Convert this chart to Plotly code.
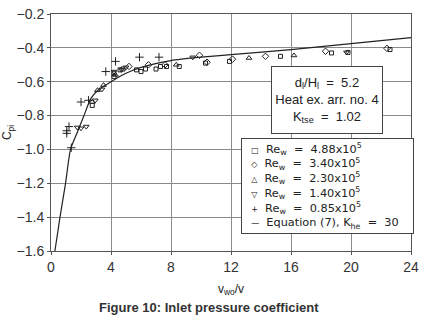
import plotly.graph_objects as go

# Re_w = 4.88x10^5 (squares)
x_488 = [2.75, 4.2, 4.2, 4.6, 4.8, 5.7, 6.0, 6.3, 7.0, 7.3, 7.7, 8.55, 10.3, 11.9, 15.3, 18.7, 19.8, 22.6]
y_488 = [-0.74, -0.57, -0.55, -0.53, -0.525, -0.53, -0.54, -0.525, -0.525, -0.51, -0.51, -0.51, -0.49, -0.48, -0.45, -0.43, -0.427, -0.41]
# Re_w = 3.40x10^5 (diamonds)
x_340 = [5.2, 6.5, 7.6, 9.9, 10.4, 12.1, 14.3, 18.3, 22.4]
y_340 = [-0.51, -0.50, -0.50, -0.444, -0.485, -0.467, -0.45, -0.42, -0.403]
# Re_w = 2.30x10^5 (triangles up)
x_230 = [2.75, 3.1, 3.5, 4.3, 8.35, 13.2, 16.2]
y_230 = [-0.72, -0.65, -0.62, -0.56, -0.50, -0.46, -0.445]
# Re_w = 1.40x10^5 (triangles down)
x_140 = [1.75, 2.0, 2.35, 2.95, 3.4, 4.2, 4.7, 5.0, 9.45, 19.7]
y_140 = [-0.87, -0.875, -0.865, -0.71, -0.645, -0.54, -0.53, -0.515, -0.456, -0.427]
# Re_w = 0.85x10^5 (crosses)
x_085 = [1.05, 1.05, 1.2, 1.35, 2.0, 2.5, 3.65, 4.3, 5.9, 7.2]
y_085 = [-0.89, -0.905, -0.865, -0.99, -0.72, -0.71, -0.54, -0.48, -0.455, -0.455]
# Equation (7), K_he = 30
x_eq = [0.26, 0.6, 0.97, 1.3, 1.75, 2.2, 2.65, 3.2, 4.0, 5.0, 6.0, 8.0, 10.0, 12.0, 16.0, 20.0, 24.0]
y_eq = [-1.6, -1.4, -1.2, -1.0, -0.9, -0.8, -0.70, -0.645, -0.6, -0.55, -0.515, -0.475, -0.455, -0.44, -0.41, -0.375, -0.34]

x_ticks = [0, 4, 8, 12, 16, 20, 24]
y_ticks = [-0.2, -0.4, -0.6, -0.8, -1.0, -1.2, -1.4, -1.6]

legend_symbols = ["\u25A1", "\u25C7", "\u25B3", "\u25BD", "+", "\u2014"]
legend_labels = [
    "Re<sub>w</sub>  =  4.88x10<sup>5</sup>",
    "Re<sub>w</sub>  =  3.40x10<sup>5</sup>",
    "Re<sub>w</sub>  =  2.30x10<sup>5</sup>",
    "Re<sub>w</sub>  =  1.40x10<sup>5</sup>",
    "Re<sub>w</sub>  =  0.85x10<sup>5</sup>",
    "Equation (7), K<sub>he</sub>  =  30",
]

FONT = "Liberation Sans"
INK = "#222222"

fig = go.Figure()
series = [
    (x_488, y_488, "square-open", legend_labels[0], 4),
    (x_340, y_340, "diamond-open", legend_labels[1], 5),
    (x_230, y_230, "triangle-up-open", legend_labels[2], 5),
    (x_140, y_140, "triangle-down-open", legend_labels[3], 5),
    (x_085, y_085, "cross-thin-open", legend_labels[4], 6),
]
for xs, ys, sym, name, sz in series:
    fig.add_trace(go.Scatter(
        x=xs, y=ys, mode="markers", name=name, showlegend=False,
        marker=dict(symbol=sym, size=sz, color=INK, line=dict(width=1, color=INK)),
    ))
fig.add_trace(go.Scatter(
    x=x_eq, y=y_eq, mode="lines", name=legend_labels[5], showlegend=False,
    line=dict(color=INK, width=1.2, shape="spline", smoothing=0.6),
))

axis_common = dict(
    showgrid=True, gridcolor="#8a8a8a", gridwidth=1,
    showline=True, linecolor="#555555", linewidth=1, mirror=True,
    ticks="outside", ticklen=3, tickcolor="#555555",
    zeroline=False, ticklabeloverflow="allow",
    tickfont=dict(family=FONT, size=14, color="#333333"),
)
fig.update_xaxes(range=[0, 24], tickvals=x_ticks, ticktext=[str(v) for v in x_ticks],
                 title=dict(text="v<sub>wo</sub>/v", font=dict(family=FONT, size=12, color=INK), standoff=10),
                 **axis_common)
fig.update_yaxes(range=[-1.6, -0.2], tickvals=y_ticks,
                 ticktext=["\u2212%.1f" % abs(v) for v in y_ticks],
                 title=dict(text="C<sub>pi</sub>", font=dict(family=FONT, size=12, color=INK), standoff=2),
                 **axis_common)

legend_text = "<br>".join(
    "&nbsp;&nbsp;<span style='font-size:8px'>%s</span>  %s" % (s, l) for s, l in zip(legend_symbols, legend_labels)
)

fig.update_layout(
    width=425, height=322,
    margin=dict(l=51, r=6, t=10, b=71),
    paper_bgcolor="white", plot_bgcolor="white",
    font=dict(family=FONT, color=INK),
    showlegend=False,
    annotations=[
        dict(text="d<sub>l</sub>/H<sub>l</sub>  =  5.2<br>Heat ex. arr. no. 4<br>K<sub>tse</sub>  =  1.02",
             xref="paper", yref="paper", x=0.766, y=0.637, xanchor="center", yanchor="middle",
             showarrow=False, align="center", width=104, height=60,
             font=dict(family=FONT, size=13, color=INK),
             bgcolor="white", bordercolor="#444444", borderwidth=1, borderpad=3),
        dict(text=legend_text,
             xref="paper", yref="paper", x=0.527, y=0.477, xanchor="left", yanchor="top",
             showarrow=False, align="left", width=167,
             font=dict(family="DejaVu Sans", size=11.3, color=INK),
             bgcolor="white", bordercolor="#444444", borderwidth=1, borderpad=2),
        dict(text="<b>Figure 10: Inlet pressure coefficient</b>",
             xref="paper", yref="paper", x=0.4375, y=-0.237, xanchor="center", yanchor="middle",
             showarrow=False, font=dict(family=FONT, size=13, color="#333333")),
    ],
)

fig.write_html("out.html", post_script="document.body.style.margin='0px';",
               config={"displayModeBar": False})
